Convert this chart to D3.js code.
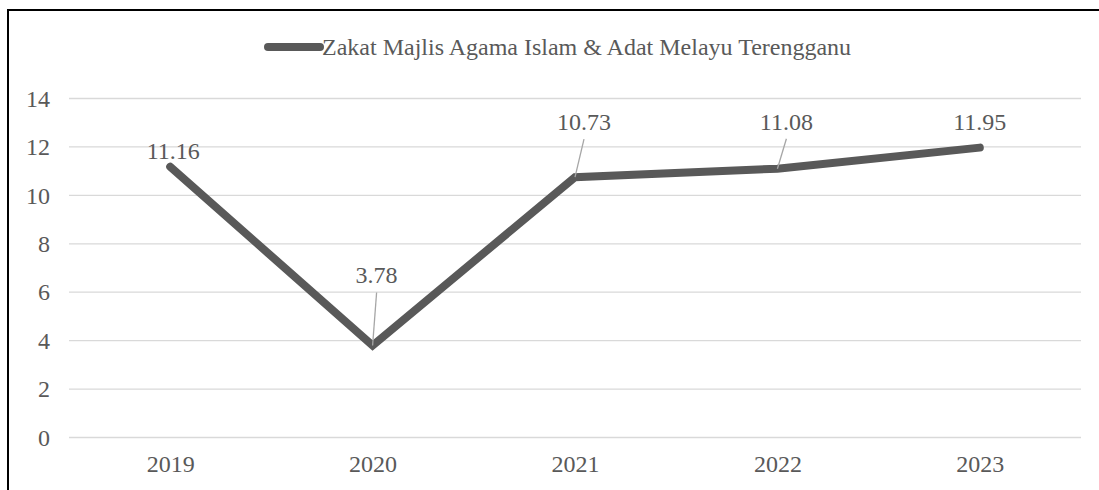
<!DOCTYPE html>
<meta charset="utf-8">
<style>
body { margin: 0; background: #fff; }
.grid line { stroke: #d9d9d9; stroke-width: 1.3px; }
.grid .domain { display: none; }
</style>
<body>
<script src="https://cdn.jsdelivr.net/npm/d3@7"></script>
<script>

var years = ["2019", "2020", "2021", "2022", "2023"];
var zakat = [11.16, 3.78, 10.73, 11.08, 11.95];
var yTicks = [0, 2, 4, 6, 8, 10, 12, 14];
var seriesName = "Zakat Majlis Agama Islam & Adat Melayu Terengganu";

// label placement relative to each point: [dx, dy, leader?]
var labelPos = [[3, -8, 0], [4, -62, 1], [9, -47, 1], [9, -39, 1], [0, -18, 0]];

var width = 1099,
    height = 490,
    fontSize = 24,
    serif = "'Liberation Serif', 'Times New Roman', serif",
    textColor = "#595959",
    lineColor = "#595959";

var svg = d3.select("body").append("svg")
    .attr("width", width)
    .attr("height", height);

// outer frame (runs off the right and bottom edge)
svg.append("rect")
    .attr("x", 8).attr("y", 10)
    .attr("width", width + 20).attr("height", height + 20)
    .attr("fill", "none")
    .attr("stroke", "#000")
    .attr("stroke-width", 2);

var x = d3.scalePoint()
    .domain(years)
    .range([69, 1081])
    .padding(0.5);

var y = d3.scaleLinear()
    .domain([0, 14])
    .range([437, 98]);

function styleText(sel) {
  sel.style("font-family", serif)
    .style("font-size", fontSize + "px")
    .style("fill", textColor);
}

var gy = svg.append("g")
    .attr("class", "grid")
    .attr("transform", "translate(69,0)")
    .call(d3.axisLeft(y).tickValues(yTicks).tickSize(-1012).tickPadding(19));
gy.selectAll("text").call(styleText).attr("dy", "0.34em");

var gx = svg.append("g")
    .attr("class", "grid")
    .attr("transform", "translate(0,437)")
    .call(d3.axisBottom(x).tickSize(0).tickPadding(19));
gx.selectAll("text").call(styleText).attr("dy", "0.68em");

var line = d3.line()
    .x(function(d, i) { return x(years[i]); })
    .y(function(d) { return y(d); });

svg.append("path")
    .datum(zakat)
    .attr("d", line)
    .attr("fill", "none")
    .attr("stroke", lineColor)
    .attr("stroke-width", 8)
    .attr("stroke-linejoin", "miter")
    .attr("stroke-linecap", "round");

// leader lines
var withLeader = d3.range(zakat.length).filter(function(i) { return labelPos[i][2]; });
svg.append("g").selectAll("line")
    .data(withLeader)
  .enter().append("line")
    .attr("x1", function(i) { return x(years[i]) + labelPos[i][0]; })
    .attr("y1", function(i) { return y(zakat[i]) + labelPos[i][1] + 9; })
    .attr("x2", function(i) { return x(years[i]); })
    .attr("y2", function(i) { return y(zakat[i]); })
    .attr("stroke", "#a6a6a6")
    .attr("stroke-width", 1.3);

svg.append("g").selectAll("text")
    .data(zakat)
  .enter().append("text")
    .attr("x", function(d, i) { return x(years[i]) + labelPos[i][0]; })
    .attr("y", function(d, i) { return y(d) + labelPos[i][1]; })
    .attr("text-anchor", "middle")
    .call(styleText)
    .text(function(d) { return d.toFixed(2); });

// legend
var legend = svg.append("g").attr("transform", "translate(268,47)");
legend.append("line")
    .attr("x1", 0).attr("x2", 52)
    .attr("stroke", lineColor)
    .attr("stroke-width", 8)
    .attr("stroke-linecap", "round");
legend.append("text")
    .attr("x", 54).attr("y", 8)
    .call(styleText)
    .text(seriesName);

</script>
